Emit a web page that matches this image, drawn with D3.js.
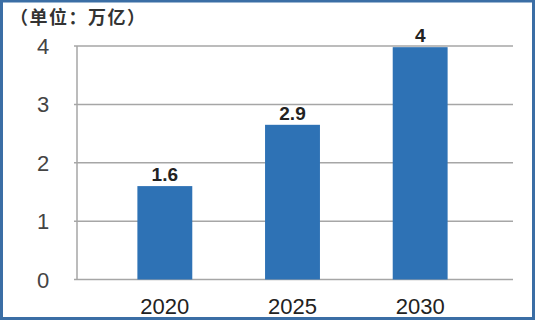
<!DOCTYPE html>
<html><head><meta charset="utf-8">
<script src="https://cdn.jsdelivr.net/npm/d3@7"></script>
<style>html,body{margin:0;padding:0;background:#fff;}svg{display:block;}</style>
</head><body>
<svg id="c" width="535" height="320"></svg>
<script>
const categories = ["2020", "2025", "2030"];
const values = [1.6, 2.65, 3.98];
const valueLabels = ["1.6", "2.9", "4"];
const yTicks = [0, 1, 2, 3, 4];
const unitLabel = "（单位：万亿）";

const svg = d3.select("#c");
const W = 535, H = 320;
svg.append("rect").attr("x", 0).attr("y", 0).attr("width", W).attr("height", H).attr("fill", "#fff");

const y = d3.scaleLinear().domain([0, 4]).range([279.5, 46]);
const x = d3.scaleBand().domain(categories).range([101, 484]).paddingInner(0.57).paddingOuter(0.285);

// gridlines
svg.append("g").selectAll("line").data(yTicks).join("line")
  .attr("x1", 74).attr("x2", 513)
  .attr("y1", d => y(d)).attr("y2", d => y(d))
  .attr("stroke", "#a6a6a6").attr("stroke-width", 1.5);
// y axis line
svg.append("line").attr("x1", 77).attr("x2", 77).attr("y1", y(4)).attr("y2", y(0))
  .attr("stroke", "#a6a6a6").attr("stroke-width", 1.5);

// y labels
svg.append("g").selectAll("text").data(yTicks).join("text")
  .attr("x", 43).attr("y", d => y(d) + 8)
  .attr("text-anchor", "middle")
  .attr("font-family", "Liberation Sans, Arial, sans-serif")
  .attr("font-size", 22).attr("fill", "#444")
  .text(d => d);

// bars
svg.append("g").selectAll("rect").data(values).join("rect")
  .attr("x", (d, i) => x(categories[i]))
  .attr("width", x.bandwidth())
  .attr("y", d => y(d))
  .attr("height", d => y(0) - y(d))
  .attr("fill", "#2e72b5");

// value labels
svg.append("g").selectAll("text").data(values).join("text")
  .attr("x", (d, i) => x(categories[i]) + x.bandwidth() / 2)
  .attr("y", d => y(d) - 5)
  .attr("text-anchor", "middle")
  .attr("font-family", "Liberation Sans, Arial, sans-serif")
  .attr("font-weight", "bold")
  .attr("font-size", 19).attr("fill", "#222")
  .text((d, i) => valueLabels[i]);

// x labels
svg.append("g").selectAll("text").data(categories).join("text")
  .attr("x", d => x(d) + x.bandwidth() / 2)
  .attr("y", 314)
  .attr("text-anchor", "middle")
  .attr("font-family", "Liberation Sans, Arial, sans-serif")
  .attr("font-size", 22).attr("fill", "#222")
  .text(d => d);

// unit label
svg.append("text").attr("x", 10).attr("y", 24)
  .attr("font-family", "Noto Sans CJK SC, sans-serif")
  .attr("font-weight", "bold").attr("font-size", 18).attr("fill", "#333")
  .attr("letter-spacing", 1.5)
  .text(unitLabel);

// border
svg.append("rect").attr("x", 1.5).attr("y", 1).attr("width", W - 3).attr("height", H - 2.5)
  .attr("fill", "none").attr("stroke", "#3b6ea5").attr("stroke-width", 3);
</script>
</body></html>
